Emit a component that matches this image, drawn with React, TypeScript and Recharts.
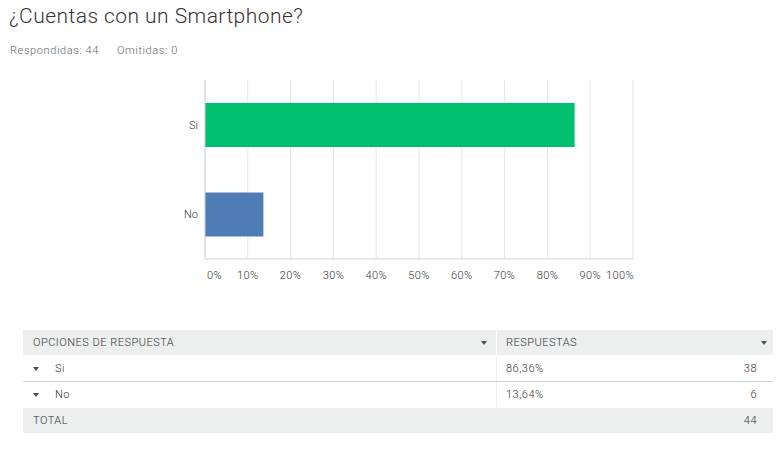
import { Bar, BarChart, CartesianGrid, Cell, XAxis, YAxis } from 'recharts';

const categories = ['Si', 'No'];
const percents = [86.36, 13.64];
const counts = [38, 6];
const percentLabels = ['86,36%', '13,64%'];
const xTicks = [0, 10, 20, 30, 40, 50, 60, 70, 80, 90, 100];
const barColors = ['#00bf6f', '#507cb6'];
const answered = 44;
const skipped = 0;

const FONT = 'Roboto, "Liberation Sans", sans-serif';
const TEXT = '#333';

const chartData = categories.map((name, i) => ({ name, value: percents[i] }));

function XTick(props: any) {
  const { x, y, payload, index } = props;
  const last = xTicks.length - 1;
  const anchor = index === 0 ? 'start' : index === last ? 'end' : 'middle';
  const dx = index === 0 ? 2 : index === last ? 1 : 0;
  return (
    <text
      x={x + dx}
      y={y + 4}
      dy="0.71em"
      textAnchor={anchor}
      fontSize={11}
      fill={TEXT}
      fontFamily={FONT}
      fontWeight={300}
      letterSpacing={0.4}
    >
      {`${payload.value}%`}
    </text>
  );
}

function Caret({ left, top }: { left: number; top: number }) {
  return (
    <div
      style={{
        position: 'absolute',
        left,
        top,
        width: 0,
        height: 0,
        borderLeft: '3.5px solid transparent',
        borderRight: '3.5px solid transparent',
        borderTop: '4px solid #4a4f54',
      }}
    />
  );
}

function Row({ top, bg, children }: { top: number; bg: string; children?: any }) {
  return (
    <div
      style={{
        position: 'absolute',
        left: 23,
        top,
        width: 750,
        height: 25,
        background: bg,
      }}
    >
      {children}
    </div>
  );
}

const cellText = {
  position: 'absolute' as const,
  top: 0,
  lineHeight: '25px',
  fontSize: 11,
  color: TEXT,
  fontWeight: 300,
  letterSpacing: 0.5,
  whiteSpace: 'nowrap' as const,
};

export default function App() {
  return (
    <div
      style={{
        position: 'absolute',
        left: 0,
        top: 0,
        width: 781,
        height: 449,
        background: '#fff',
        fontFamily: FONT,
        overflow: 'hidden',
      }}
    >
      <div
        style={{
          position: 'absolute',
          left: 9,
          top: 4,
          fontSize: 21,
          fontWeight: 300,
          letterSpacing: 0.45,
          color: TEXT,
          whiteSpace: 'nowrap',
        }}
      >
        ¿Cuentas con un Smartphone?
      </div>
      <div
        style={{
          position: 'absolute',
          left: 10,
          top: 44,
          fontSize: 11,
          fontWeight: 300,
          letterSpacing: 0.6,
          color: '#5f6b72',
          whiteSpace: 'nowrap',
        }}
      >
        Respondidas: {answered}
        <span style={{ marginLeft: 18 }}>Omitidas: {skipped}</span>
      </div>

      <div style={{ position: 'absolute', left: 150, top: 60 }}>
        <BarChart
          width={500}
          height={240}
          data={chartData}
          layout="vertical"
          margin={{ top: 20, right: 17, left: 0, bottom: 11 }}
          barSize={44}
        >
          <CartesianGrid horizontal={false} stroke="#e6e6e6" />
          <XAxis
            type="number"
            domain={[0, 100]}
            ticks={xTicks}
            interval={0}
            height={30}
            tickLine={false}
            axisLine={{ stroke: '#cfd3d5' }}
            tick={<XTick />}
          />
          <YAxis
            type="category"
            dataKey="name"
            width={55}
            tickLine={false}
            tickSize={0}
            tickMargin={7}
            axisLine={{ stroke: '#cfd3d5' }}
            tick={{ fontSize: 11, fill: TEXT, fontFamily: FONT, fontWeight: 300 }}
          />
          <Bar dataKey="value" isAnimationActive={false}>
            {chartData.map((d, i) => (
              <Cell key={d.name} fill={barColors[i]} />
            ))}
          </Bar>
        </BarChart>
      </div>

      <Row top={330} bg="#edeeee">
        <div style={{ ...cellText, left: 10 }}>OPCIONES DE RESPUESTA</div>
        <Caret left={458} top={11} />
        <div style={{ position: 'absolute', left: 473, top: 0, width: 1, height: 103, background: '#ffffff' }} />
        <div style={{ ...cellText, left: 483 }}>RESPUESTAS</div>
        <Caret left={738} top={11} />
      </Row>
      {categories.map((c, i) => (
        <Row key={c} top={356 + i * 26} bg="#fff">
          <Caret left={10} top={11} />
          <div style={{ ...cellText, left: 32 }}>{c}</div>
          <div style={{ position: 'absolute', left: 473, top: 0, width: 1, height: 25, background: '#eef0f0' }} />
          <div style={{ ...cellText, left: 483 }}>{percentLabels[i]}</div>
          <div style={{ ...cellText, right: 16 }}>{counts[i]}</div>
        </Row>
      ))}
      <div style={{ position: 'absolute', left: 23, top: 381, width: 750, height: 1, background: '#d0d4d6' }} />
      <Row top={408} bg="#edeeee">
        <div style={{ ...cellText, left: 10 }}>TOTAL</div>
        <div style={{ ...cellText, right: 16 }}>{answered}</div>
      </Row>
    </div>
  );
}
